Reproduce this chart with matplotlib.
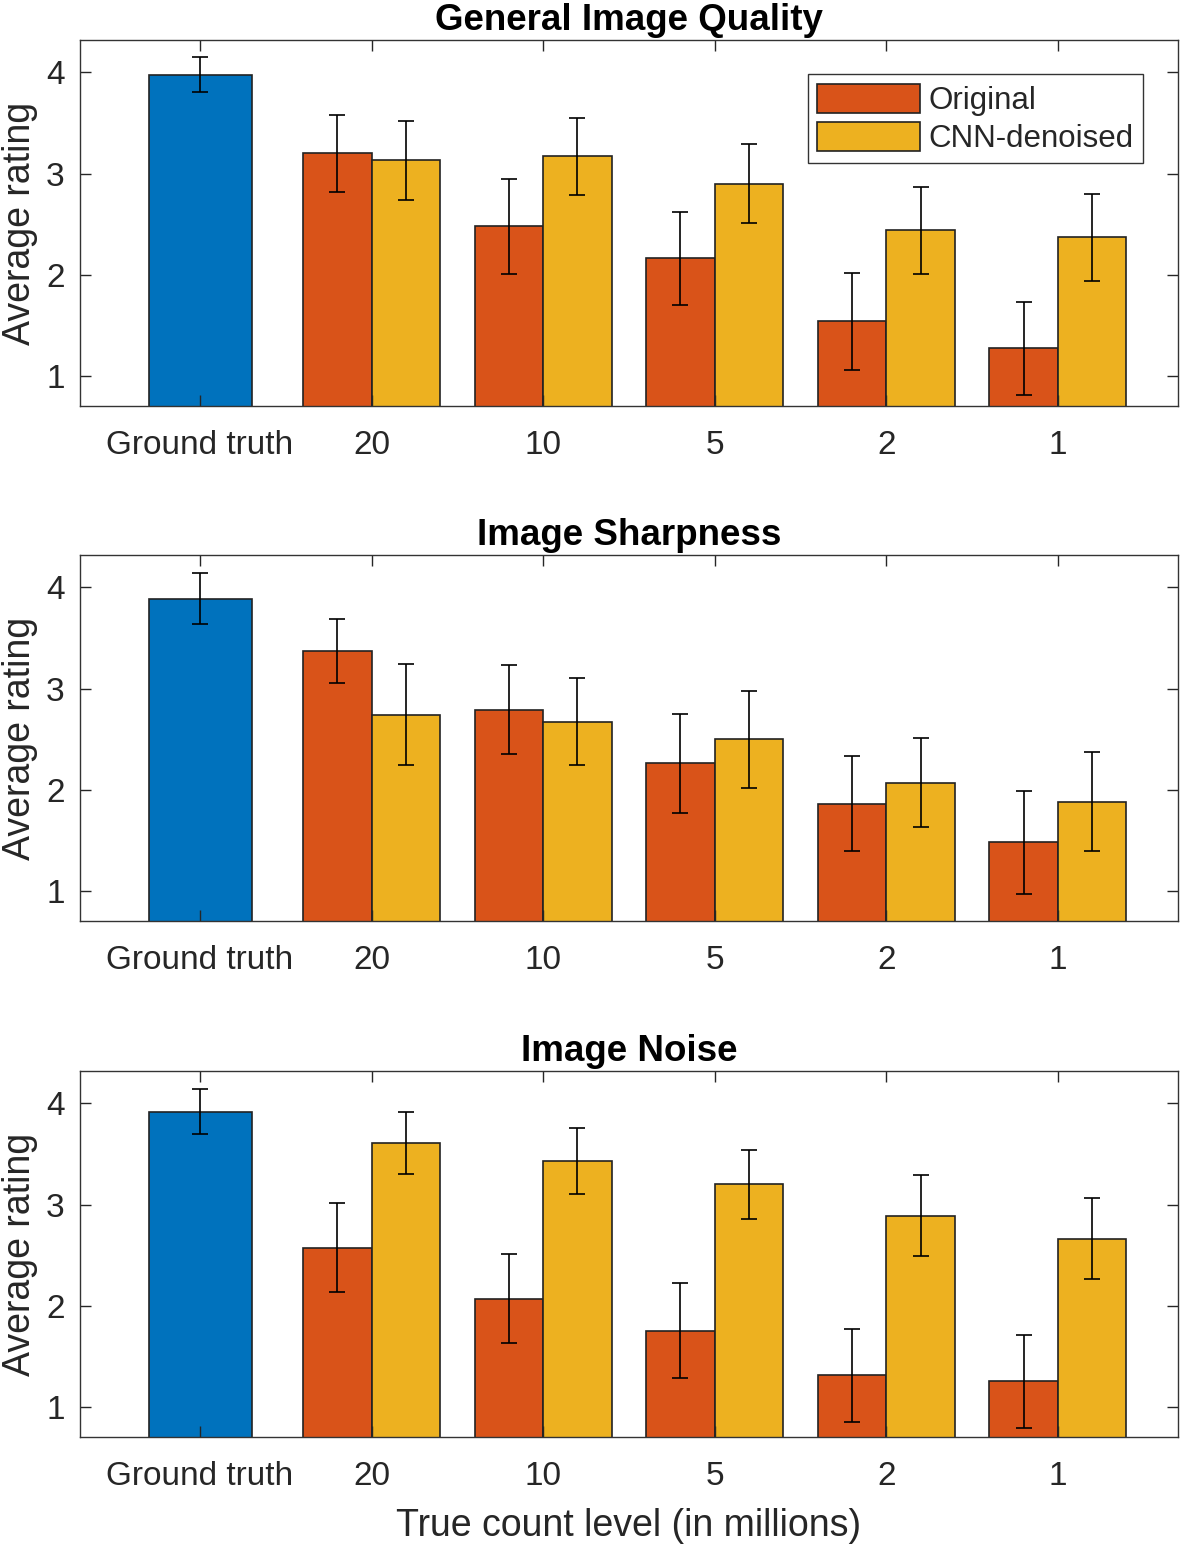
import numpy as np
import matplotlib.pyplot as plt

plt.rcParams['font.family'] = ['Liberation Sans', 'DejaVu Sans']

levels = ['Ground truth', '20', '10', '5', '2', '1']
titles = ['General Image Quality', 'Image Sharpness', 'Image Noise']

# ground truth mean / error per panel
gt_mean = [3.98, 3.89, 3.92]
gt_err = [0.17, 0.25, 0.22]

# original (orange) per count level 20,10,5,2,1
orig_mean = [[3.20, 2.48, 2.16, 1.54, 1.27],
             [3.37, 2.79, 2.26, 1.86, 1.48],
             [2.57, 2.07, 1.75, 1.31, 1.25]]
orig_err = [[0.38, 0.47, 0.46, 0.48, 0.46],
            [0.32, 0.44, 0.49, 0.47, 0.51],
            [0.44, 0.44, 0.47, 0.46, 0.46]]

# CNN-denoised (yellow)
cnn_mean = [[3.13, 3.17, 2.90, 2.44, 2.37],
            [2.74, 2.67, 2.50, 2.07, 1.88],
            [3.61, 3.43, 3.20, 2.89, 2.66]]
cnn_err = [[0.39, 0.38, 0.39, 0.43, 0.43],
           [0.50, 0.43, 0.48, 0.44, 0.49],
           [0.31, 0.33, 0.34, 0.40, 0.40]]

c_blue = '#0072BD'
c_orange = '#D95319'
c_yellow = '#EDB120'
txt = '#262626'

fig = plt.figure(figsize=(11.81, 15.44), dpi=100)
bottoms = [0.7370, 0.4035, 0.0693]

x = np.arange(1, 7)
xg = x[1:]
w = 0.4
ekw = dict(fmt='none', ecolor='black', elinewidth=1.2, capsize=6, capthick=1.2)

for k in range(3):
    ax = fig.add_axes([0.0677, bottoms[k], 0.9297, 0.2370])
    ax.bar(x[0], gt_mean[k], 0.6, color=c_blue, edgecolor='#222222', linewidth=1.2)
    ax.errorbar(x[0], gt_mean[k], yerr=gt_err[k], **ekw)
    ax.bar(xg - w/2, orig_mean[k], w, color=c_orange, edgecolor='#222222', linewidth=1.2, label='Original')
    ax.bar(xg + w/2, cnn_mean[k], w, color=c_yellow, edgecolor='#222222', linewidth=1.2, label='CNN-denoised')
    ax.errorbar(xg - w/2, orig_mean[k], yerr=orig_err[k], **ekw)
    ax.errorbar(xg + w/2, cnn_mean[k], yerr=cnn_err[k], **ekw)

    ax.set_xlim(0.3, 6.7)
    ax.set_ylim(0.7, 4.32)
    ax.set_xticks(x)
    ax.set_xticklabels(levels)
    ax.set_yticks([1, 2, 3, 4])
    ax.tick_params(direction='in', top=True, right=True, length=8, width=1,
                   labelsize=24, colors=txt)
    ax.tick_params(axis='x', pad=17)
    ax.tick_params(axis='y', pad=11)
    for s in ax.spines.values():
        s.set_color('#333333')
        s.set_linewidth(1)
    ax.set_ylabel('Average rating', fontsize=27, color=txt, labelpad=6)
    ax.set_title(titles[k], fontsize=26.5, fontweight='bold', color='black', pad=7)
    if k == 0:
        leg = ax.legend(loc='upper right', bbox_to_anchor=(0.968, 0.907), fontsize=22.5,
                        handlelength=3.3, handleheight=1.05, handletextpad=0.25,
                        labelspacing=0.2, borderpad=0.3, fancybox=False,
                        edgecolor='#333333', framealpha=1, borderaxespad=0)
        leg.get_frame().set_linewidth(1)
        for t in leg.get_texts():
            t.set_color(txt)
    if k == 2:
        ax.set_xlabel('True count level (in millions)', fontsize=27, color=txt, labelpad=12)

fig.savefig('out.png', dpi=100)
